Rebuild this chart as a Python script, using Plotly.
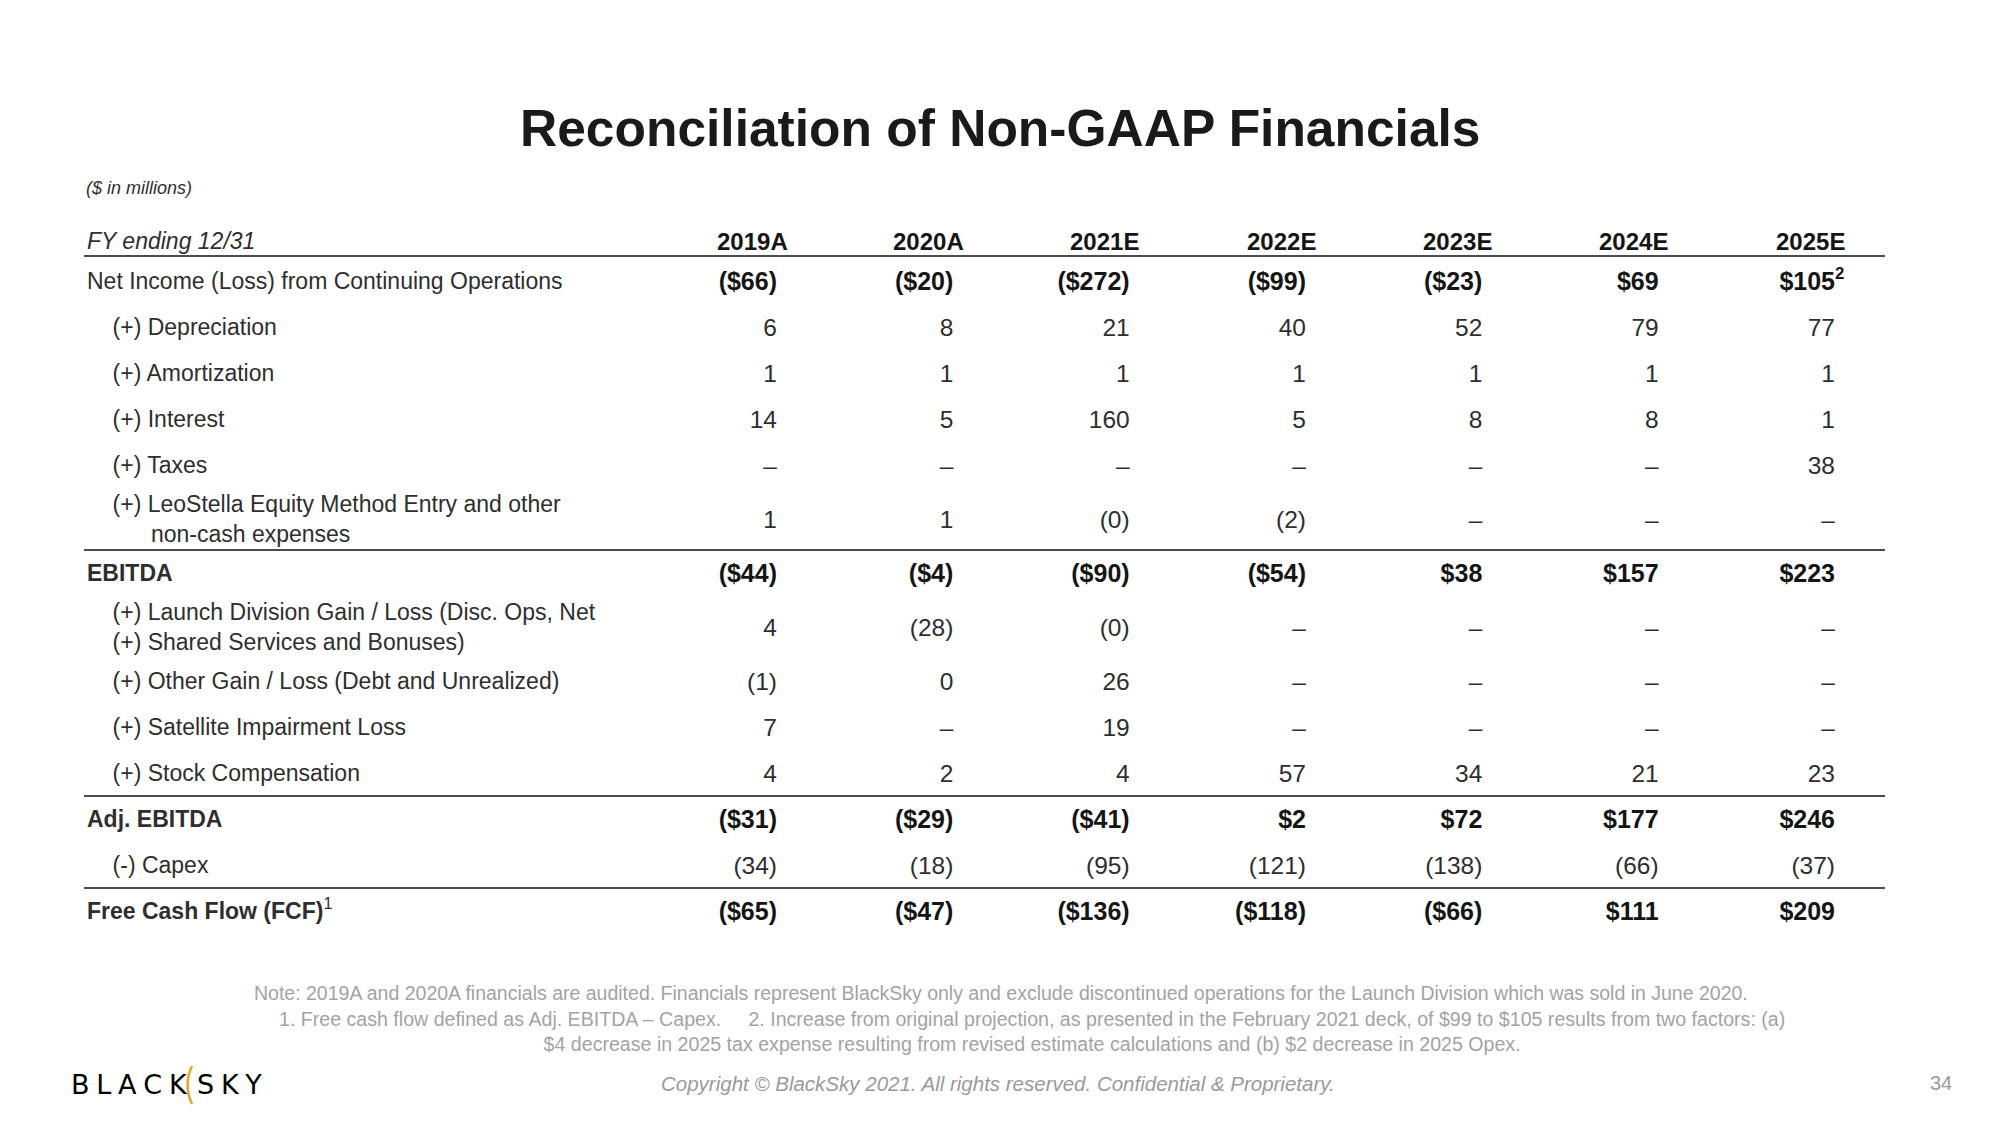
import math
import plotly.graph_objects as go

# ---------------- data ----------------
years = ["2019A", "2020A", "2021E", "2022E", "2023E", "2024E", "2025E"]

net_income = [-66, -20, -272, -99, -23, 69, 105]
depreciation = [6, 8, 21, 40, 52, 79, 77]
amortization = [1, 1, 1, 1, 1, 1, 1]
interest = [14, 5, 160, 5, 8, 8, 1]
taxes = [None, None, None, None, None, None, 38]
leostella_other = [1, 1, -0.0, -2, None, None, None]
ebitda = [-44, -4, -90, -54, 38, 157, 223]
launch_division = [4, -28, -0.0, None, None, None, None]
other_gain_loss = [-1, 0, 26, None, None, None, None]
satellite_impairment = [7, None, 19, None, None, None, None]
stock_compensation = [4, 2, 4, 57, 34, 21, 23]
adj_ebitda = [-31, -29, -41, 2, 72, 177, 246]
capex = [-34, -18, -95, -121, -138, -66, -37]
free_cash_flow = [-65, -47, -136, -118, -66, 111, 209]

row_labels = [
    "Net Income (Loss) from Continuing Operations",
    "(+) Depreciation",
    "(+) Amortization",
    "(+) Interest",
    "(+) Taxes",
    "(+) LeoStella Equity Method Entry and other|non-cash expenses",
    "EBITDA",
    "(+) Launch Division Gain / Loss (Disc. Ops, Net|(+) Shared Services and Bonuses)",
    "(+) Other Gain / Loss (Debt and Unrealized)",
    "(+) Satellite Impairment Loss",
    "(+) Stock Compensation",
    "Adj. EBITDA",
    "(-) Capex",
    "Free Cash Flow (FCF)",
]
row_values = [net_income, depreciation, amortization, interest, taxes, leostella_other,
              ebitda, launch_division, other_gain_loss, satellite_impairment,
              stock_compensation, adj_ebitda, capex, free_cash_flow]
dollar_rows = ["Net Income (Loss) from Continuing Operations", "EBITDA", "Adj. EBITDA",
               "Free Cash Flow (FCF)"]
bold_labels = ["EBITDA", "Adj. EBITDA", "Free Cash Flow (FCF)"]
indented_labels = [l for l in row_labels if l.startswith("(")]
rule_before = ["EBITDA", "Adj. EBITDA", "Free Cash Flow (FCF)"]
header_label = "FY ending 12/31"
label_footnotes = {"Free Cash Flow (FCF)": "1"}
cell_footnotes = {("Net Income (Loss) from Continuing Operations", "2025E"): "2"}

# ---------------- layout constants (page pixels) ----------------
PAGE_W, PAGE_H = 2000, 1125
OFF = 8                      # browser body margin
FIG_W, FIG_H = PAGE_W - OFF, PAGE_H - OFF
PLOT_L, PLOT_R, PLOT_T, PLOT_B = 84, 1885, 215, 940   # page coords of plot area
L = PLOT_L - OFF
T = PLOT_T - OFF
R = FIG_W - (PLOT_R - OFF)
B = FIG_H - (PLOT_B - OFF)
W = PLOT_R - PLOT_L
H = PLOT_B - PLOT_T
COL0_RIGHT, COL6_RIGHT = 777, 1835
ROW_PITCH, EXTRA_LINE, HEADER_GAP = 46, 8, 40
VALUE_DY = 2.5               # baseline tweak so value text lines up with row labels
HEADER_PAGE_Y = 241
FONT = "Liberation Sans, Arial, sans-serif"
TXT = "#2e2e2e"
BOLD_TXT = "#151515"
GREY = "#a3a3a3"
NB = "\u00a0"


def px(x):
    return (x - PLOT_L) / W


def py(y):
    return 1 - (y - PLOT_T) / H


def fmt(v, dollar):
    if v is None:
        return "\u2013"
    neg = v < 0 or (v == 0 and math.copysign(1, v) < 0)
    s = f"{abs(int(round(v)))}"
    if dollar:
        s = "$" + s
    if neg:
        s = f"({s})"
    return f"<b>{s}</b>" if dollar else s


def fmt_label(lab):
    lines = lab.split("|")
    out = []
    for k, ln in enumerate(lines):
        if lab in bold_labels:
            t = f"<b>{ln}</b>"
        elif lab in indented_labels:
            indent = 4 if (k == 0 or ln.startswith("(")) else 10
            t = NB * indent + ln
        else:
            t = ln
        out.append(t)
    txt = "<br>".join(out)
    if lab in label_footnotes:
        txt += f"<sup>{label_footnotes[lab]}</sup>"
    return txt


# row positions (computed from line counts)
nlines = [len(l.split("|")) for l in row_labels]
row_y = []
for i, n in enumerate(nlines):
    if i == 0:
        row_y.append(HEADER_GAP)
    else:
        row_y.append(row_y[-1] + ROW_PITCH + EXTRA_LINE * ((nlines[i - 1] - 1) + (n - 1)))
header_y = 0
y_top = PLOT_T - HEADER_PAGE_Y

fig = go.Figure()

# value cells
for bold in (False, True):
    xs, ys, texts = [], [], []
    for lab, vals, y in zip(row_labels, row_values, row_y):
        if (lab in dollar_rows) != bold:
            continue
        for j, v in enumerate(vals):
            xs.append(j)
            ys.append(y + VALUE_DY)
            texts.append(fmt(v, lab in dollar_rows))
    fig.add_trace(go.Scatter(
        x=xs, y=ys, text=texts, mode="text", textposition="middle left",
        textfont=dict(family=FONT, size=25 if bold else 24.5, color=BOLD_TXT if bold else TXT),
        hoverinfo="skip", showlegend=False, cliponaxis=False))

# cell footnote markers
fx, fy, ft = [], [], []
for (lab, yr), note in cell_footnotes.items():
    fx.append(years.index(yr))
    fy.append(row_y[row_labels.index(lab)] + VALUE_DY)
    ft.append(f"<b><sup>{note}</sup></b>")
fig.add_trace(go.Scatter(
    x=fx, y=fy, text=ft, mode="text", textposition="middle right",
    textfont=dict(family=FONT, size=24, color=BOLD_TXT), hoverinfo="skip", showlegend=False,
    cliponaxis=False))

# column headers
for j, yr in enumerate(years):
    fig.add_annotation(x=j, y=header_y, xref="x", yref="y", text=f"<b>{yr}</b>",
                       showarrow=False, xanchor="center", yanchor="middle", xshift=-25,
                       font=dict(family=FONT, size=24, color=BOLD_TXT))

# rules
rule_ys = [row_y[0] - ROW_PITCH / 2 - 2] + [row_y[row_labels.index(r)] - ROW_PITCH / 2
                                            for r in rule_before]
for k, yv in enumerate(rule_ys):
    fig.add_shape(type="line", xref="paper", yref="y", x0=0, x1=1, y0=yv, y1=yv,
                  line=dict(color="#111111", width=1.6 if k == 0 else 1.3))

col_pitch = (COL6_RIGHT - COL0_RIGHT) / (len(years) - 1)
x_min = -(COL0_RIGHT - PLOT_L) / col_pitch
x_max = (len(years) - 1) + (PLOT_R - COL6_RIGHT) / col_pitch

fig.update_xaxes(range=[x_min, x_max], showticklabels=False, showgrid=False,
                 zeroline=False, showline=False, fixedrange=True)
fig.update_yaxes(range=[y_top + H, y_top],
                 tickmode="array", tickvals=[header_y] + row_y,
                 ticktext=[f"<i>{header_label}</i>"] + [fmt_label(l) for l in row_labels],
                 ticklabelposition="inside", ticks="", showgrid=False, zeroline=False,
                 showline=False, tickfont=dict(family=FONT, size=23, color=TXT),
                 fixedrange=True)

# page text
ann = [
    dict(text="<b>Reconciliation of Non-GAAP Financials</b>", x=1000, y=128, xa="center",
         size=51.5, color="#1a1a1a"),
    dict(text="<i>($ in millions)</i>", x=84, y=188, xa="left", size=18, color=TXT),
    dict(text="Note: 2019A and 2020A financials are audited. Financials represent BlackSky only and "
              "exclude discontinued operations for the Launch Division which was sold in June 2020.",
         x=1001, y=993, xa="center", size=19.5, color=GREY),
    dict(text="1. Free cash flow defined as Adj. EBITDA \u2013 Capex." + NB * 5 +
              "2. Increase from original projection, as presented in the February 2021 deck, of $99 to "
              "$105 results from two factors: (a)<br>$4 decrease in 2025 tax expense resulting from "
              "revised estimate calculations and (b) $2 decrease in 2025 Opex.",
         x=1032, y=1031, xa="center", size=19.6, color=GREY),
    dict(text="<i>Copyright \u00a9 BlackSky 2021. All rights reserved. Confidential &amp; Proprietary.</i>",
         x=998, y=1083, xa="center", size=20.5, color="#9a9a9a"),
    dict(text="34", x=1941, y=1083, xa="center", size=20, color="#9a9a9a"),
]
for a in ann:
    fig.add_annotation(text=a["text"], x=px(a["x"]), y=py(a["y"]), xref="paper", yref="paper",
                       xanchor=a["xa"], yanchor="middle", showarrow=False, align="center",
                       font=dict(family=FONT, size=a["size"], color=a["color"]))

# logo
SP = "\u2005"
for word, x0 in (("BLACK", 69), ("SKY", 195)):
    fig.add_annotation(text=SP.join(word), x=px(x0), y=py(1084), xref="paper", yref="paper",
                       xanchor="left", yanchor="middle", showarrow=False,
                       font=dict(family="DejaVu Sans, sans-serif", size=27, color="#000000"))
fig.add_shape(type="path", xref="paper", yref="paper",
              path=f"M {px(192)} {py(1066)} Q {px(183)} {py(1085)} {px(192)} {py(1104)}",
              line=dict(color="#e3a72f", width=2.5))

fig.update_layout(width=FIG_W, height=FIG_H, margin=dict(l=L, r=R, t=T, b=B, autoexpand=False),
                  paper_bgcolor="white", plot_bgcolor="white", showlegend=False)

fig.write_html("out.html")
